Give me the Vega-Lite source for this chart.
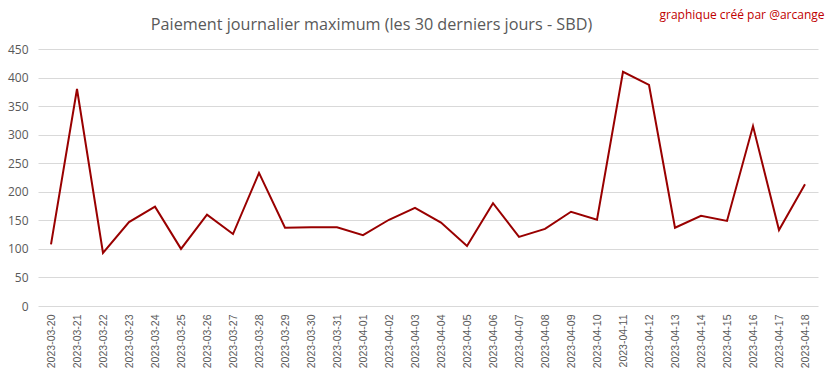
{
  "$schema": "https://vega.github.io/schema/vega-lite/v6.json",
  "width": 780,
  "height": 257,
  "autosize": {"type": "none"},
  "padding": {"left": 38, "top": 49, "right": 15, "bottom": 73},
  "background": "white",
  "config": {
    "view": {"stroke": null},
    "font": "Open Sans"
  },
  "data": {
    "values": [
      {"date": "2023-03-20", "value": 108},
      {"date": "2023-03-21", "value": 380},
      {"date": "2023-03-22", "value": 93},
      {"date": "2023-03-23", "value": 147},
      {"date": "2023-03-24", "value": 174},
      {"date": "2023-03-25", "value": 100},
      {"date": "2023-03-26", "value": 160},
      {"date": "2023-03-27", "value": 126},
      {"date": "2023-03-28", "value": 233},
      {"date": "2023-03-29", "value": 137},
      {"date": "2023-03-30", "value": 138},
      {"date": "2023-03-31", "value": 138},
      {"date": "2023-04-01", "value": 124},
      {"date": "2023-04-02", "value": 151},
      {"date": "2023-04-03", "value": 172},
      {"date": "2023-04-04", "value": 146},
      {"date": "2023-04-05", "value": 105},
      {"date": "2023-04-06", "value": 180},
      {"date": "2023-04-07", "value": 121},
      {"date": "2023-04-08", "value": 135},
      {"date": "2023-04-09", "value": 165},
      {"date": "2023-04-10", "value": 151},
      {"date": "2023-04-11", "value": 410},
      {"date": "2023-04-12", "value": 387},
      {"date": "2023-04-13", "value": 137},
      {"date": "2023-04-14", "value": 158},
      {"date": "2023-04-15", "value": 149},
      {"date": "2023-04-16", "value": 315},
      {"date": "2023-04-17", "value": 133},
      {"date": "2023-04-18", "value": 213}
    ]
  },
  "mark": {"type": "line", "color": "#990000", "strokeWidth": 2},
  "encoding": {
    "x": {
      "field": "date",
      "type": "ordinal",
      "scale": {"type": "point", "padding": 0.5},
      "axis": {
        "title": "graphique créé par @arcange",
        "titleColor": "#c00000",
        "titleFont": "Open Sans",
        "titleFontSize": 12,
        "titleFontWeight": "normal",
        "titleX": 786,
        "titleY": -292,
        "titleAlign": "right",
        "titleBaseline": "middle",
        "titleAnchor": null,
        "labelAngle": -90,
        "labelAlign": "right",
        "labelBaseline": "middle",
        "labelFontSize": 10.5,
        "labelColor": "#595959",
        "labelFont": "Liberation Sans",
        "labelPadding": 8,
        "ticks": false,
        "domain": false,
        "grid": false
      }
    },
    "y": {
      "field": "value",
      "type": "quantitative",
      "scale": {"domain": [0, 450], "nice": false},
      "axis": {
        "values": [0, 50, 100, 150, 200, 250, 300, 350, 400, 450],
        "title": "Paiement journalier maximum (les 30 derniers jours - SBD)",
        "titleAngle": 0,
        "titleX": 333,
        "titleY": -25,
        "titleAlign": "center",
        "titleBaseline": "middle",
        "titleFont": "Open Sans",
        "titleFontSize": 16.2,
        "titleFontWeight": "normal",
        "titleColor": "#595959",
        "labelFontSize": 12,
        "labelColor": "#595959",
        "labelPadding": 10,
        "ticks": false,
        "domain": false,
        "grid": true,
        "gridColor": "#d9d9d9",
        "gridWidth": 1
      }
    }
  }
}
